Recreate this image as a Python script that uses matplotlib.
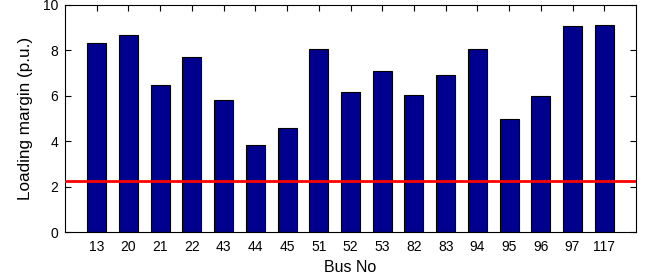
import matplotlib
matplotlib.use("Agg")
import matplotlib.pyplot as plt
import numpy as np

buses = ["13", "20", "21", "22", "43", "44", "45", "51", "52", "53", "82", "83", "94", "95", "96", "97", "117"]
margins = [8.31, 8.67, 6.49, 7.70, 5.80, 3.85, 4.60, 8.08, 6.17, 7.11, 6.05, 6.90, 8.08, 4.96, 6.01, 9.07, 9.14]
threshold = 2.25
yticks = [0, 2, 4, 6, 8, 10]

plt.rcParams['font.family'] = ['Liberation Sans', 'DejaVu Sans']

fig = plt.figure(figsize=(6.46, 2.77), dpi=100)
ax = fig.add_axes([65/646, 1 - 232/277, 571/646, 227/277])

x = np.arange(1, len(buses) + 1)
ax.bar(x, margins, width=0.6, color='#00008F', edgecolor='black', linewidth=0.8, zorder=2)
ax.axhline(threshold, color='#FF0000', linewidth=2, zorder=3)

ax.set_xlim(0, len(buses) + 1)
ax.set_ylim(0, 10)
ax.set_xticks(x)
ax.set_xticklabels(buses)
ax.set_yticks(yticks)
ax.tick_params(direction='in', top=True, right=True, labelsize=10, length=4, width=0.8)
ax.tick_params(axis='x', pad=6)
ax.tick_params(axis='y', pad=5)
for s in ax.spines.values():
    s.set_linewidth(0.8)
ax.set_ylabel("Loading margin (p.u.)", fontsize=12.3, labelpad=7)
ax.set_xlabel("Bus No", fontsize=11.5, labelpad=4)

fig.savefig("out.png", dpi=100)
